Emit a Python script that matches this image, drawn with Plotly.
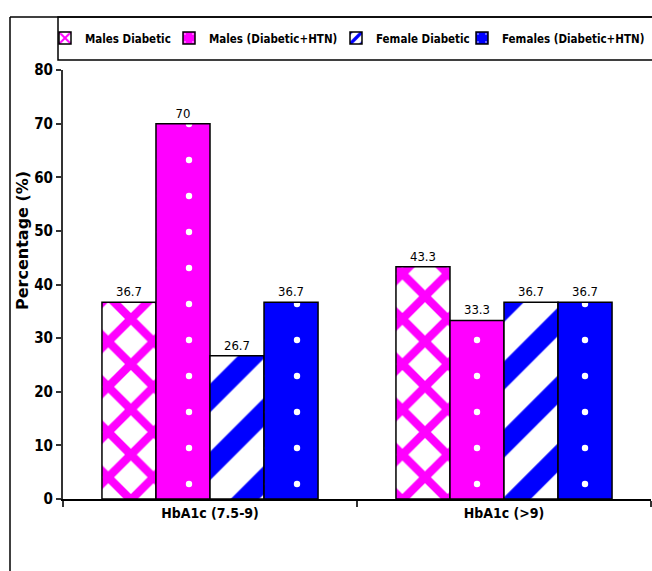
import plotly.graph_objects as go

categories = ["HbA1c (7.5-9)", "HbA1c (>9)"]
series_names = ["Males Diabetic", "Males (Diabetic+HTN)", "Female Diabetic", "Females (Diabetic+HTN)"]
males_diabetic = [36.7, 43.3]
males_diabetic_htn = [70, 33.3]
female_diabetic = [26.7, 36.7]
females_diabetic_htn = [36.7, 36.7]
y_ticks = [0, 10, 20, 30, 40, 50, 60, 70, 80]

MAGENTA = "#FF00FF"
BLUE = "#0000FF"
FONT = "DejaVu Sans Condensed, Liberation Sans, Arial, sans-serif"

styles = [
    dict(shape="x", bgcolor="white", fgcolor=MAGENTA, fgopacity=1, size=32, solidity=0.45),
    dict(shape=".", bgcolor=MAGENTA, fgcolor="white", fgopacity=1, size=36, solidity=0.025),
    dict(shape="/", bgcolor="white", fgcolor=BLUE, fgopacity=1, size=48, solidity=0.42),
    dict(shape=".", bgcolor=BLUE, fgcolor="white", fgopacity=1, size=36, solidity=0.025),
]
base_colors = ["white", MAGENTA, "white", BLUE]

# plot area in pixels and paper-coordinate helpers
L, T, W, H = 63, 70, 588, 429
def px(x):
    return (x - L) / W
def py(y):
    return (T + H - y) / H

# each series gets its own one-entry legend so the row spreads across the top box
legend_ids = ["legend", "legend2", "legend3", "legend4"]
legend_left = [45, 169, 336, 462]

fig = go.Figure()
for name, vals, pat, col, lid in zip(series_names,
                                     [males_diabetic, males_diabetic_htn, female_diabetic, females_diabetic_htn],
                                     styles, base_colors, legend_ids):
    fig.add_trace(go.Bar(
        name=name, x=categories, y=vals, legend=lid,
        text=[f"{v:g}" for v in vals], textposition="outside",
        textfont=dict(family=FONT, size=13, color="black"),
        cliponaxis=False,
        marker=dict(color=col, pattern=pat, line=dict(color="black", width=1.5)),
    ))

shapes = [
    dict(type="line", xref="paper", yref="paper", x0=px(10), x1=px(10), y0=py(17), y1=py(571),
         line=dict(color="black", width=1.5)),
    dict(type="line", xref="paper", yref="paper", x0=px(10), x1=px(652), y0=py(17), y1=py(17),
         line=dict(color="black", width=1.5)),
    dict(type="rect", xref="paper", yref="paper", x0=px(58), x1=px(653), y0=py(60), y1=py(17),
         line=dict(color="black", width=1.5)),
]

legend_style = dict(orientation="h", xanchor="left", yanchor="middle", y=py(38),
                    font=dict(family=FONT, size=11.5, color="black", weight="bold"),
                    bgcolor="rgba(0,0,0,0)", borderwidth=0, itemwidth=30)
legends = {lid: dict(legend_style, x=px(xl)) for lid, xl in zip(legend_ids, legend_left)}

fig.update_layout(
    width=652, height=571,
    margin=dict(l=L, r=1, t=T, b=571 - T - H, autoexpand=False),
    paper_bgcolor="white", plot_bgcolor="white",
    barmode="group", bargap=0.265, bargroupgap=0,
    font=dict(family=FONT, color="black"),
    shapes=shapes,
    showlegend=True,
    annotations=[dict(text="Percentage (%)", textangle=-90, xref="paper", yref="paper",
                      x=px(22), y=py(241), xanchor="center", yanchor="middle", showarrow=False,
                      font=dict(family="DejaVu Sans, Liberation Sans, Arial, sans-serif",
                                size=16, weight="bold", color="black"))],
    yaxis=dict(range=[0, 80], tickvals=y_ticks, ticks="outside", ticklen=5, tickwidth=2,
               tickcolor="#333", showline=True, linecolor="#333", linewidth=2,
               showgrid=False, zeroline=False,
               tickfont=dict(family=FONT, size=15, weight="bold")),
    xaxis=dict(showline=True, linecolor="black", linewidth=2, ticks="outside", tickson="boundaries",
               ticklen=6, tickwidth=2, tickcolor="#333", showgrid=False,
               tickfont=dict(family=FONT, size=14, weight="bold")),
    **legends,
)

fig.write_html("out.html")
